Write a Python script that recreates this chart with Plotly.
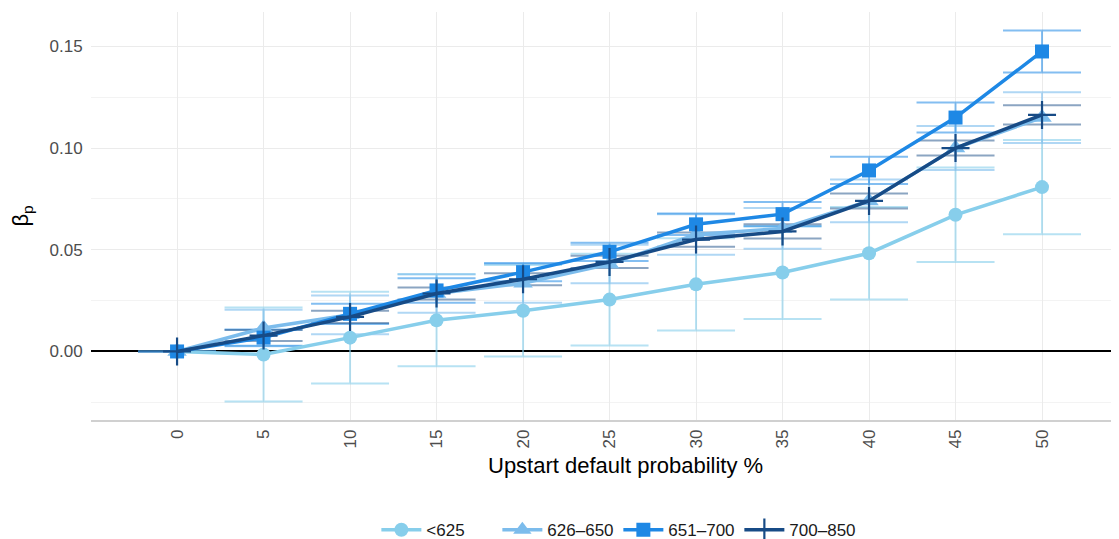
import plotly.graph_objects as go

x_vals = [0, 5, 10, 15, 20, 25, 30, 35, 40, 45, 50]
x_labels = [str(v) for v in x_vals]
groups = ["<625", "626–650", "651–700", "700–850"]

beta_lt625 = [0, -0.0015, 0.0068, 0.0153, 0.0200, 0.0255, 0.0330, 0.0388, 0.0483, 0.0672, 0.0808]
se_lt625 = [0, 0.0231, 0.0226, 0.0226, 0.0225, 0.0226, 0.0227, 0.0228, 0.0227, 0.0232, 0.0232]

beta_626 = [0, 0.0115, 0.0180, 0.0285, 0.0335, 0.0430, 0.0575, 0.0605, 0.0740, 0.1000, 0.1150]
se_626 = [0, 0.0090, 0.0095, 0.0095, 0.0095, 0.0095, 0.0100, 0.0100, 0.0105, 0.0108, 0.0125]

beta_651 = [0, 0.0068, 0.0185, 0.0300, 0.0390, 0.0490, 0.0625, 0.0675, 0.0890, 0.1150, 0.1475]
se_651 = [0, 0.0040, 0.0050, 0.0060, 0.0045, 0.0045, 0.0053, 0.0060, 0.0067, 0.0074, 0.0103]

beta_700 = [0, 0.0078, 0.0170, 0.0285, 0.0355, 0.0440, 0.0550, 0.0590, 0.0740, 0.1000, 0.1163]
se_700 = [0, 0.0027, 0.0030, 0.0030, 0.0030, 0.0030, 0.0035, 0.0035, 0.0037, 0.0037, 0.0047]

series = [
    (groups[0], beta_lt625, se_lt625, "#87CEEB", "rgba(135,206,235,0.6)", "circle", 14),
    (groups[1], beta_626, se_626, "#7CBCEC", "rgba(124,188,236,0.6)", "triangle-up", 17),
    (groups[2], beta_651, se_651, "#1E88E5", "rgba(30,136,229,0.55)", "square", 14),
    (groups[3], beta_700, se_700, "#174B86", "rgba(23,75,134,0.5)", "cross-thin", 20),
]

fig = go.Figure()

# error bars first (under the lines)
for name, y, se, col, ecol, sym, sz in series:
    fig.add_trace(go.Scatter(
        x=x_vals, y=y, mode="markers",
        marker=dict(size=1, opacity=0),
        error_y=dict(type="data", array=se, visible=True, color=ecol,
                     thickness=2, width=39),
        showlegend=False, hoverinfo="skip",
    ))

for name, y, se, col, ecol, sym, sz in series:
    marker = dict(symbol=sym, size=sz, color=col)
    if sym == "cross-thin":
        marker["line"] = dict(color=col, width=2.2)
    fig.add_trace(go.Scatter(
        x=x_vals, y=y, mode="lines+markers", name=name,
        line=dict(color=col, width=3.5),
        marker=marker,
    ))

# page has an 8px body margin; figure is sized so it fills the 1119x539 window
fig.update_layout(
    width=1111, height=531,
    margin=dict(l=83, r=0, t=4, b=119, autoexpand=False),
    paper_bgcolor="white", plot_bgcolor="white",
    font=dict(family="Liberation Sans, Arial, sans-serif", color="#4D4D4D", size=17),
    showlegend=True,
    legend=dict(orientation="h", x=0.513, xanchor="center", y=-0.27, yanchor="middle",
                font=dict(size=17, color="#1A1A1A"), itemwidth=40, entrywidth=66,
                traceorder="normal"),
    annotations=[dict(
        text="Upstart default probability %", xref="paper", yref="paper",
        x=0.52, y=-0.1127, xanchor="center", yanchor="middle", showarrow=False,
        font=dict(size=22, color="#000000"),
    )],
)

fig.update_xaxes(
    automargin=False,
    range=[-4.975, 54.45],
    tickmode="array", tickvals=x_vals, ticktext=x_labels, tickangle=-90,
    showgrid=True, gridcolor="#EBEBEB", gridwidth=1.3,
    zeroline=False, showline=True, linecolor="#D0D0D0", linewidth=1.5,
    ticks="outside", ticklen=1, tickcolor="rgba(0,0,0,0)",
    tickfont=dict(size=17, color="#4D4D4D"),
)

fig.update_yaxes(
    automargin=False,
    range=[-0.0337, 0.1669],
    tickmode="array", tickvals=[0, 0.05, 0.10, 0.15], ticktext=["0.00", "0.05", "0.10", "0.15"],
    showgrid=True, gridcolor="#EBEBEB", gridwidth=1.3,
    minor=dict(tickvals=[-0.025, 0.025, 0.075, 0.125], showgrid=True, gridcolor="#F3F3F3", gridwidth=1),
    zeroline=True, zerolinecolor="#000000", zerolinewidth=1.8,
    ticks="outside", ticklen=4, tickcolor="rgba(0,0,0,0)",
    tickfont=dict(size=17, color="#4D4D4D"),
    title=dict(text="β<sub>p</sub>", font=dict(size=22, color="#000000"), standoff=27),
)

fig.write_html("out.html")
